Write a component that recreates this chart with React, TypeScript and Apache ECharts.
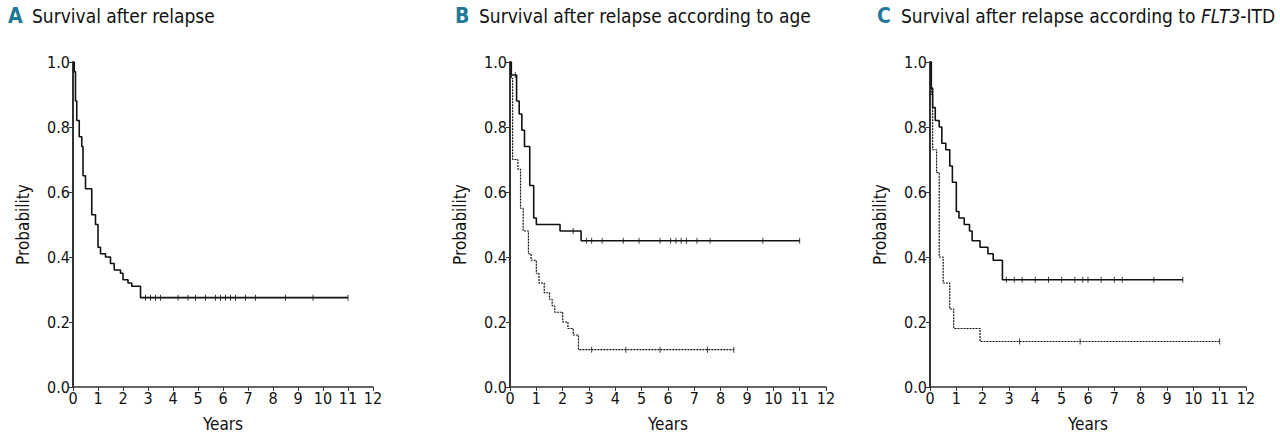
import { useEffect, useRef } from 'react';
import * as echarts from 'echarts';

// Kaplan-Meier steps: [years, probability]
const stepsA = [[0, 1], [0.05, 0.97], [0.1, 0.88], [0.15, 0.82], [0.25, 0.77], [0.35, 0.74], [0.4, 0.65], [0.5, 0.61], [0.75, 0.53], [0.9, 0.5], [1.0, 0.43], [1.1, 0.41], [1.3, 0.4], [1.5, 0.38], [1.65, 0.36], [1.9, 0.35], [2.0, 0.33], [2.2, 0.32], [2.35, 0.31], [2.7, 0.275], [11, 0.275]];
const censorA = [2.9, 3.1, 3.3, 3.5, 4.2, 4.6, 4.9, 5.3, 5.7, 5.9, 6.1, 6.3, 6.5, 6.9, 7.3, 8.5, 9.6, 11];

const stepsBYoung = [[0, 1], [0.05, 0.96], [0.25, 0.88], [0.35, 0.84], [0.45, 0.79], [0.55, 0.74], [0.75, 0.62], [0.9, 0.52], [1.0, 0.5], [1.9, 0.48], [2.7, 0.45], [11, 0.45]];
const censorBYoung = [0.2, 2.4, 2.9, 3.1, 3.5, 4.3, 4.9, 5.7, 6.1, 6.3, 6.5, 6.7, 7.1, 7.6, 9.6, 11];
const stepsBOld = [[0, 1], [0.05, 0.95], [0.1, 0.7], [0.3, 0.67], [0.4, 0.55], [0.5, 0.48], [0.7, 0.41], [0.8, 0.39], [1.0, 0.35], [1.1, 0.32], [1.3, 0.29], [1.5, 0.27], [1.6, 0.25], [1.7, 0.23], [2.0, 0.2], [2.2, 0.18], [2.4, 0.16], [2.6, 0.115], [8.5, 0.115]];
const censorBOld = [3.1, 4.4, 5.7, 7.5, 8.5];

const stepsCNeg = [[0, 1], [0.05, 0.92], [0.1, 0.86], [0.2, 0.82], [0.35, 0.8], [0.45, 0.75], [0.6, 0.73], [0.75, 0.68], [0.85, 0.63], [1.0, 0.54], [1.1, 0.52], [1.3, 0.5], [1.5, 0.48], [1.6, 0.45], [1.9, 0.43], [2.2, 0.41], [2.4, 0.39], [2.75, 0.33], [9.6, 0.33]];
const censorCNeg = [2.9, 3.2, 3.5, 4.0, 4.5, 5.0, 5.5, 5.8, 6.0, 6.5, 7.0, 7.3, 8.5, 9.6];
const stepsCPos = [[0, 1], [0.05, 0.9], [0.1, 0.73], [0.25, 0.66], [0.35, 0.4], [0.5, 0.32], [0.75, 0.24], [0.9, 0.18], [1.9, 0.14], [11, 0.14]];
const censorCPos = [3.4, 5.7, 11];

const FONT = '"DejaVu Sans Condensed", "Liberation Sans Narrow", sans-serif';

const at = (steps: number[][], t: number) => {
  let v = steps[0][1];
  for (const [x, y] of steps) if (x <= t) v = y;
  return v;
};

const grids = [
  { left: 73, width: 300 },
  { left: 510, width: 316 },
  { left: 930, width: 316 },
];

const titles = [
  { letter: 'A', x: 8, text: '{n|Survival after relapse}' },
  { letter: 'B', x: 455, text: '{n|Survival after relapse according to age}' },
  { letter: 'C', x: 877, text: '{n|Survival after relapse according to }{i|FLT3}{n|-ITD}' },
];

export default function App() {
  const ref = useRef<HTMLDivElement | null>(null);

  useEffect(() => {
    if (!ref.current) return;
    document.body.style.margin = '0';
    const chart = echarts.init(ref.current, undefined, { renderer: 'svg' });

    const curve = (idx: number, steps: number[][], dotted: boolean) => ({
      type: 'line', xAxisIndex: idx, yAxisIndex: idx, step: 'end', data: steps,
      showSymbol: false, symbol: 'none',
      lineStyle: { color: '#111', width: dotted ? 1.2 : 1.6, type: dotted ? [2, 1] : 'solid' },
    });
    const marks = (idx: number, steps: number[][], times: number[]) => ({
      type: 'scatter', xAxisIndex: idx, yAxisIndex: idx, symbol: 'rect', symbolSize: [1, 6],
      itemStyle: { color: '#111' }, data: times.map((t) => [t, at(steps, t)]),
    });

    chart.setOption({
      animation: false,
      textStyle: { fontFamily: FONT },
      grid: grids.map((g) => ({ ...g, top: 62, height: 326 })),
      xAxis: grids.map((_, i) => ({
        type: 'value', gridIndex: i, min: 0, max: 12, interval: 1,
        name: 'Years', nameLocation: 'middle', nameGap: 28,
        nameTextStyle: { fontSize: 17, color: '#111', fontFamily: FONT },
        axisLine: { lineStyle: { color: '#333', width: 1.5 } },
        axisTick: { lineStyle: { color: '#333' }, length: 4 },
        axisLabel: { color: '#111', fontSize: 16, margin: 3 },
        splitLine: { show: false },
      })),
      yAxis: grids.map((_, i) => ({
        type: 'value', gridIndex: i, min: 0, max: 1, interval: 0.2,
        name: 'Probability', nameLocation: 'middle', nameGap: 42, nameRotate: 90,
        nameTextStyle: { fontSize: 17, color: '#111', fontFamily: FONT },
        axisLine: { show: true, lineStyle: { color: '#333', width: 2 } },
        axisTick: { show: true, lineStyle: { color: '#333' }, length: 4 },
        axisLabel: { color: '#111', fontSize: 16, margin: 3, formatter: (v: number) => v.toFixed(1) },
        splitLine: { show: false },
      })),
      graphic: titles.map((t) => ({
        type: 'group', x: t.x, y: 5,
        children: [
          { type: 'text', x: 0, y: 0, style: { text: t.letter, fill: '#1f7a9a', font: `bold 21px ${FONT}` } },
          {
            type: 'text', x: 24, y: 1,
            style: {
              text: t.text, fill: '#111',
              rich: {
                n: { fontSize: 19, fontFamily: FONT, fill: '#111' },
                i: { fontSize: 19, fontFamily: FONT, fontStyle: 'italic', fill: '#111' },
              },
            },
          },
        ],
      })),
      series: [
        curve(0, stepsA, false), marks(0, stepsA, censorA),
        curve(1, stepsBYoung, false), marks(1, stepsBYoung, censorBYoung),
        curve(1, stepsBOld, true), marks(1, stepsBOld, censorBOld),
        curve(2, stepsCNeg, false), marks(2, stepsCNeg, censorCNeg),
        curve(2, stepsCPos, true), marks(2, stepsCPos, censorCPos),
      ],
    });

    return () => chart.dispose();
  }, []);

  return <div ref={ref} style={{ width: 1280, height: 437 }} />;
}
